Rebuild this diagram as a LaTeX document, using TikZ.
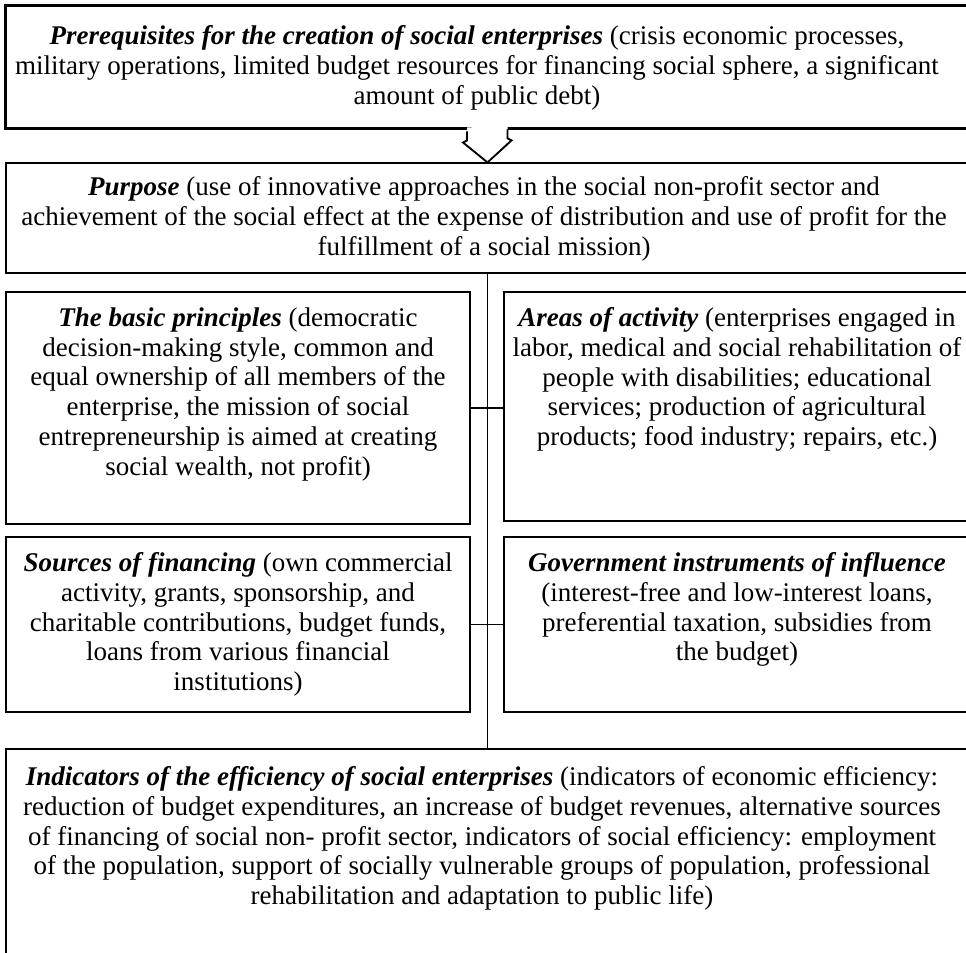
\documentclass[tikz,border=0pt]{standalone}
\usepackage{fontspec}
\setmainfont{Liberation Serif}
\usetikzlibrary{positioning,fit}

\newcommand{\hdr}[1]{\textbf{\textit{#1}}}

\begin{document}
\begin{tikzpicture}[x=0.75pt,y=-0.75pt,
					frame/.style={draw,line width=0.9pt,inner sep=0pt},
					heavy/.style={frame,line width=2.25pt},
					txt/.style={anchor=north,align=center,inner sep=0pt,
					            font=\fontsize{20.25}{22.3}\selectfont},
					link/.style={line width=0.9pt},
					notch/.style={line width=1.4pt}]

  \useasboundingbox (0,0) rectangle (966,952);
  \clip (0,0) rectangle (966,952);

  % boxes
  \node[heavy, fit={(5,6) (969,129)}] (prq) {};
  \node[frame, fit={(6,163) (969,273)}] (purpose) {};
  \node[frame, fit={(6,292) (470,524)}] (basic) {};
  \node[frame, fit={(504,292) (969,521)}] (areas) {};
  \node[frame, fit={(6,537) (470,712)}] (sources) {};
  \node[frame, fit={(504,537) (969,712)}] (govt) {};
  \node[frame, fit={(6,749) (969,980)}] (ind) {};

  % texts
  \node[txt] (prq-txt) at (477,25.5) {\hdr{Prerequisites for the creation of social enterprises} (crisis economic processes,\\
    military operations, limited budget resources for financing social sphere, a significant\\
    amount of public debt)};
  \node[txt] (purpose-txt) at (484,176.5) {\hdr{Purpose} (use of innovative approaches in the social non-profit sector and\\
    achievement of the social effect at the expense of distribution and use of profit for the\\
    fulfillment of a social mission)};
  \node[txt] (basic-txt) at (238,307.5) {\hdr{The basic principles} (democratic\\
    decision-making style, common and\\
    equal ownership of all members of the\\
    enterprise, the mission of social\\
    entrepreneurship is aimed at creating\\
    social wealth, not profit)};
  \node[txt] (areas-txt) at (737,307.5) {\hdr{Areas of activity} (enterprises engaged in\\
    labor, medical and social rehabilitation of\\
    people with disabilities; educational\\
    services; production of agricultural\\
    products; food industry; repairs, etc.)};
  \node[txt] (sources-txt) at (238,552.5) {\hdr{Sources of financing} (own commercial\\
    activity, grants, sponsorship, and\\
    charitable contributions, budget funds,\\
    loans from various financial\\
    institutions)};
  \node[txt] (govt-txt) at (737,552.5) {\hdr{Government instruments of influence}\\
    (interest-free and low-interest loans,\\
    preferential taxation, subsidies from\\
    the budget)};
  \node[txt] (ind-txt) at (482,766.5) {\hdr{Indicators of the efficiency of social enterprises} (indicators of economic efficiency:\\
    reduction of budget expenditures, an increase of budget revenues, alternative sources\\
    of financing of social non- profit sector, indicators of social efficiency: employment\\
    of the population, support of socially vulnerable groups of population, professional\\
    rehabilitation and adaptation to public life)};

  % hollow arrow
  \path[fill=white] (prq.south) ++(-20,-3) -- ++(0,13) -- ++(-4,2) -- (purpose.north)
    -- ++(24,-22) -- ++(-4,-2) -- ++(0,-13) -- cycle;
  \draw[notch] (prq.south) ++(-20,1) -- ++(0,9) -- ++(-4,2) -- (purpose.north)
    -- ++(24,-22) -- ++(-4,-2) -- ++(0,-9);

  % connectors
  \draw[link] (purpose) -- (ind);
  \draw[link] (basic.east) -- (basic.east -| areas.west);
  \draw[link] (sources.east) -- (sources.east -| govt.west);
\end{tikzpicture}
\end{document}
